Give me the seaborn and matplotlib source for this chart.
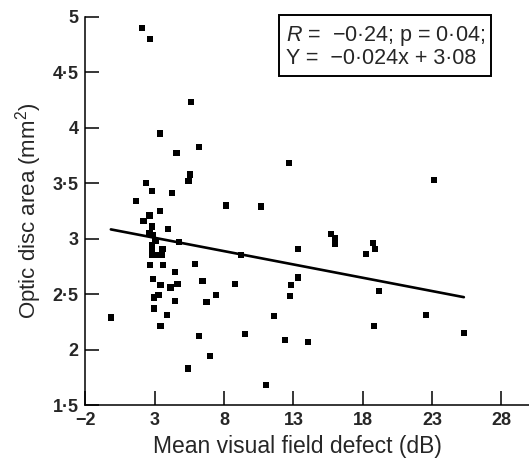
import numpy as np
import pandas as pd
import matplotlib
matplotlib.use("Agg")
import matplotlib.pyplot as plt
import seaborn as sns
from matplotlib.ticker import FuncFormatter


# mean visual field defect (dB) vs optic disc area (mm2)
defect_db = [
    2.08, 2.64, 5.60, 3.38, 6.17, 4.56, 5.55, 5.43, 2.37, 2.80,
    4.27, 1.63, 3.38, 2.62, 2.19, 2.80, 3.96, 2.62, 2.88, 3.05,
    4.73, 2.78, 2.78, 2.78, 3.14, 3.50, 3.56, 2.66, 3.60, 4.44,
    5.90, 2.86, 3.41, 4.13, 4.64, 6.44, 8.77, 2.95, 3.27, 4.44,
    7.40, 6.73, 2.95, 3.87, 3.41, 6.17, 6.99, 5.38, -0.17, 12.71,
    8.14, 10.69, 13.31, 9.20, 13.36, 12.81, 12.73, 11.58, 9.51, 12.40,
    14.08, 11.00, 15.71, 15.98, 15.98, 18.72, 18.88, 18.26, 19.17, 18.84,
    23.12, 22.56, 25.30,
]
disc_area = [
    4.90, 4.80, 4.23, 3.95, 3.83, 3.77, 3.58, 3.52, 3.50, 3.43,
    3.41, 3.34, 3.25, 3.21, 3.16, 3.11, 3.09, 3.05, 3.03, 2.98,
    2.97, 2.94, 2.89, 2.85, 2.85, 2.85, 2.91, 2.76, 2.76, 2.70,
    2.77, 2.64, 2.58, 2.56, 2.59, 2.62, 2.59, 2.47, 2.49, 2.44,
    2.49, 2.43, 2.37, 2.31, 2.21, 2.12, 1.94, 1.83, 2.29, 3.68,
    3.30, 3.29, 2.91, 2.85, 2.65, 2.58, 2.48, 2.30, 2.14, 2.09,
    2.07, 1.68, 3.04, 3.01, 2.95, 2.96, 2.91, 2.86, 2.53, 2.21,
    3.53, 2.31, 2.15,
]

SLOPE = -0.024
INTERCEPT = 3.08

x_ticks = [-2, 3, 8, 13, 18, 23, 28]
y_ticks = [1.5, 2, 2.5, 3, 3.5, 4, 4.5, 5]

FONT = "Liberation Sans"


def fmt_num(v, pos=None):
    s = f"{v:g}".replace(".", "\u00b7").replace("-", "\u2212")
    return s


def main():
    sns.set_style("ticks")
    plt.rcParams["font.family"] = [FONT, "DejaVu Sans"]
    plt.rcParams["mathtext.fontset"] = "custom"
    plt.rcParams["mathtext.it"] = f"{FONT}:italic"
    plt.rcParams["mathtext.rm"] = FONT

    df = pd.DataFrame({"defect": defect_db, "area": disc_area})

    fig = plt.figure(figsize=(5.29, 4.59), dpi=100)
    ax = fig.add_axes([0.1616, 0.1176, 0.8384, 0.8454])

    sns.scatterplot(data=df, x="defect", y="area", marker="s", s=20,
                    color="black", edgecolor="none", ax=ax)

    line_x = np.array([df["defect"].min(), df["defect"].max()])
    line = pd.DataFrame({"x": line_x, "y": SLOPE * line_x + INTERCEPT})
    sns.lineplot(data=line, x="x", y="y", color="black", linewidth=1.9, ax=ax)

    ax.set_xlim(-2, 30)
    ax.set_ylim(1.5, 5)
    ax.set_xticks(x_ticks)
    ax.set_yticks(y_ticks)
    ax.xaxis.set_major_formatter(FuncFormatter(fmt_num))
    ax.yaxis.set_major_formatter(FuncFormatter(fmt_num))
    ax.tick_params(direction="in", length=10, width=1.1, pad=5,
                   labelsize=13, color="black")
    for lab in ax.get_xticklabels() + ax.get_yticklabels():
        lab.set_fontweight("bold")

    sns.despine(ax=ax)
    for side in ["left", "bottom"]:
        ax.spines[side].set_linewidth(1.1)
        ax.spines[side].set_color("black")

    ax.set_xlabel("Mean visual field defect (dB)", fontsize=16.5, labelpad=4)
    ax.xaxis.label.set_x(0.478)
    ax.set_ylabel("Optic disc area (mm$^2$)", fontsize=16, labelpad=6)

    box_text = ("$\\it{R}$ =  \u22120\u00b724; p = 0\u00b704;\n"
                "Y =  \u22120\u00b7024x + 3\u00b708")
    ax.text(0.452, 0.983, box_text, transform=ax.transAxes, ha="left", va="top",
            fontsize=15.5, linespacing=1.05,
            bbox=dict(boxstyle="square,pad=0.3", facecolor="white",
                      edgecolor="black", linewidth=1.4))

    fig.savefig("out.png", dpi=100)
    plt.close(fig)


if __name__ == "__main__":
    main()
